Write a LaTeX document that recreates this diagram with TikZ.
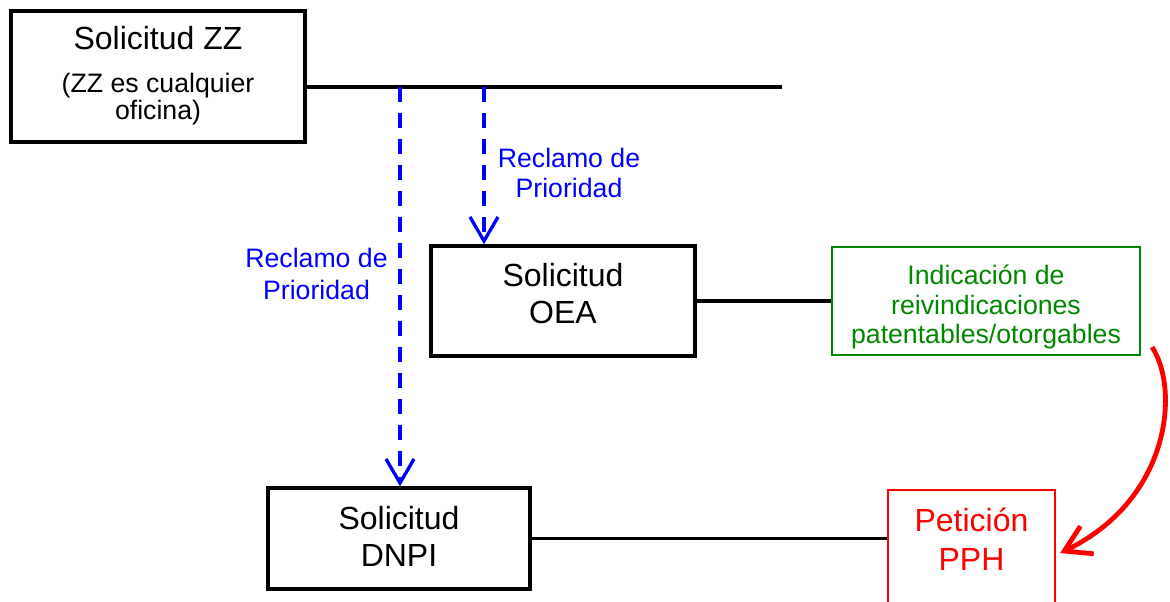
\documentclass[tikz,border=0pt]{standalone}
\usepackage{fontspec}
\setmainfont{Liberation Sans}
\usetikzlibrary{arrows.meta}
\definecolor{oblue}{RGB}{0,0,255}
\definecolor{ogreen}{RGB}{0,135,0}
\definecolor{ored}{RGB}{255,0,0}
\begin{document}
\begin{tikzpicture}[x=0.75pt,y=-0.75pt,
  box/.style={draw, line width=2.6pt, rectangle, inner sep=0pt},
  bigtext/.style={font=\fontsize{24}{27.75}\selectfont, align=center, inner sep=0pt},
  smalltext/.style={font=\fontsize{20}{22}\selectfont, align=center, inner sep=0pt},
  link/.style={line width=2.3pt},
  prio/.style={oblue, line width=2.5pt, dash pattern=on 11.25pt off 8.25pt,
    -{Straight Barb[length=18pt,width=21pt]}},
  pphlink/.style={ored, line width=3.6pt, -{Straight Barb[length=19pt,width=23pt]}},
]
\useasboundingbox (0,0) rectangle (1170,601);

% boxes
\node[box, minimum width=220.5pt, minimum height=98.25pt] (zz) at (158,76.5) {};
\node[box, minimum width=198pt, minimum height=82.5pt] (oea) at (563,301) {};
\node[box, minimum width=196.5pt, minimum height=75.75pt] (dnpi) at (399,538.5) {};
\node[box, draw=ogreen, line width=1.6pt, minimum width=231pt, minimum height=81pt] (green) at (986,301) {};
\node[box, draw=ored, line width=1.6pt, minimum width=125.25pt, minimum height=87pt] (pph) at (971.5,548) {};

% texts
\node[bigtext, anchor=base] (zzt1) at (158,49) {Solicitud ZZ};
\node[smalltext, font=\fontsize{20}{20.25}\selectfont] (zzt2) at (158,99.5) {(ZZ es cualquier\\oficina)};
\node[bigtext] (oeat) at (563,294) {Solicitud\\OEA};
\node[bigtext] (dnpit) at (399,536) {Solicitud\\DNPI};
\node[bigtext, text=ored, font=\fontsize{24}{29.25}\selectfont] (ppht) at (971.5,539) {Petición\\PPH};
\node[smalltext, text=ogreen] (greent) at (986,307) {Indicación de\\reivindicaciones\\patentables/otorgables};
\node[smalltext, text=oblue, font=\fontsize{20}{22.5}\selectfont] (prio1) at (569,173) {Reclamo de\\Prioridad};
\node[smalltext, text=oblue, font=\fontsize{20}{23.5}\selectfont] (prio2) at (316.5,274) {Reclamo de\\Prioridad};

% connectors
\coordinate (lineend) at (782,87);
\coordinate (p1) at (400,87);
\coordinate (p2) at (484,87);
\draw[link] (zz.east |- lineend) -- (lineend);
\draw[link] (oea.east) -- (oea.east -| green.west);
\draw[link] (dnpi.east) -- (dnpi.east -| pph.west);
\draw[prio] (p2) -- (p2 |- oea.north);
\draw[prio] (p1) -- (p1 |- dnpi.north);
\draw[pphlink] ([shift={(11,-9)}]green.south east) .. controls (1180,390) and (1170,500) .. ([shift={(4,5)}]pph.east);
\end{tikzpicture}
\end{document}
